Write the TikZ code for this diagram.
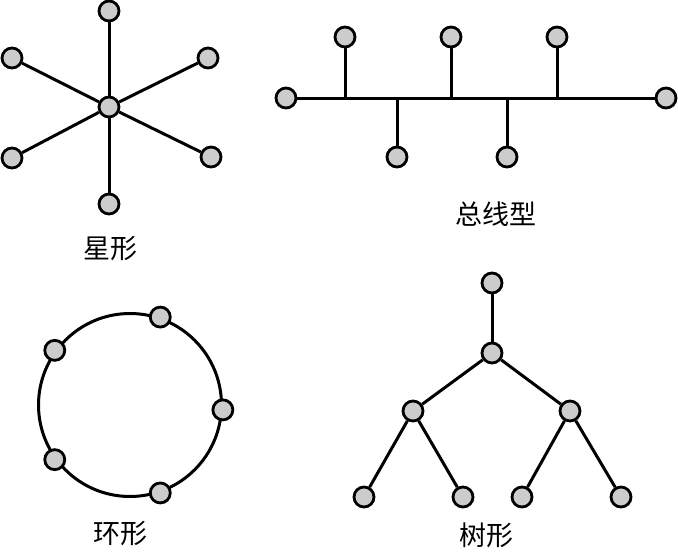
\documentclass[tikz,border=0pt]{standalone}
\usepackage{fontspec}
\newfontfamily\cjk{Noto Sans CJK SC}
\begin{document}
\begin{tikzpicture}[x=1pt,y=-1pt,
  dot/.style={circle,draw,line width=2.8pt,fill=black!20,minimum size=20pt,inner sep=0pt},
  link/.style={line width=3pt},
  lbl/.style={font=\cjk\fontsize{27}{30}\selectfont,inner sep=0pt}]
\useasboundingbox (0,0) rectangle (678,552);
% star
\node[dot] (sc) at (109,107) {};
\node[dot] (s1) at (109,11) {};
\node[dot] (s2) at (12,58) {};
\node[dot] (s3) at (208,58) {};
\node[dot] (s4) at (12,158) {};
\node[dot] (s5) at (211,157) {};
\node[dot] (s6) at (109,204) {};
\foreach \i in {1,...,6} \draw[link] (sc) -- (s\i);
\node[lbl] (lstar) at (110,249) {星形};
% bus
\node[dot] (b0) at (286,98) {};
\node[dot] (b6) at (666,98) {};
\draw[link] (b0) -- (b6);
\foreach \n/\x/\y in {1/345/37,2/451/37,3/557/37,4/397/157,5/507/157}{
  \coordinate (j\n) at (\x,98);
  \node[dot] (b\n) at (\x,\y) {};
  \draw[link] (j\n) -- (b\n);
}
\node[lbl] (lbus) at (496,214) {总线型};
% ring
\node[circle,draw,line width=3pt,minimum size=183pt,inner sep=0pt] (ring) at (130,405) {};
\foreach \n/\a in {1/71,2/144,3/-3,4/216,5/289}
  \node[dot] (r\n) at (ring.\a) {};
\node[lbl] (lring) at (120,534) {环形};
% tree
\node[dot] (t0) at (492,283) {};
\node[dot] (t1) at (492,353) {};
\node[dot] (t2) at (413,411) {};
\node[dot] (t3) at (570,411) {};
\node[dot] (t4) at (364,497) {};
\node[dot] (t5) at (463,497) {};
\node[dot] (t6) at (522,497) {};
\node[dot] (t7) at (621,497) {};
\draw[link] (t0) -- (t1);
\draw[link] (t1) -- (t2);
\draw[link] (t1) -- (t3);
\draw[link] (t2) -- (t4);
\draw[link] (t2) -- (t5);
\draw[link] (t3) -- (t6);
\draw[link] (t3) -- (t7);
\node[lbl] (ltree) at (486,535) {树形};
\end{tikzpicture}
\end{document}
